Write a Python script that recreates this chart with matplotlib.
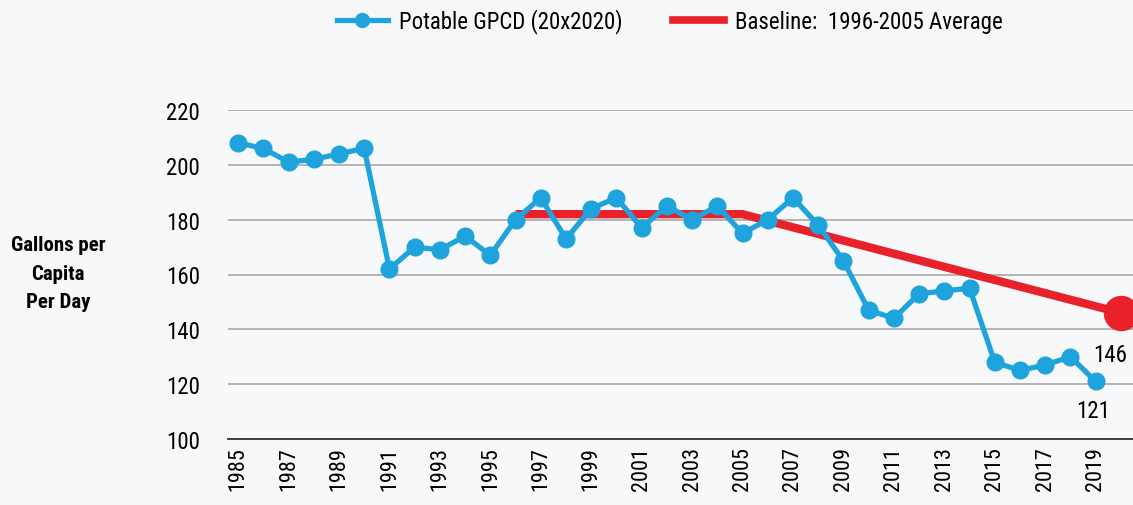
import matplotlib
matplotlib.use("Agg")
import matplotlib.pyplot as plt
from matplotlib.lines import Line2D

years = list(range(1985, 2020))
gpcd = [208, 206, 201, 202, 204, 206, 162, 170, 169, 174, 167, 180, 188, 173, 184,
        188, 177, 185, 180, 185, 175, 180, 188, 178, 165, 147, 144, 153, 154, 155,
        128, 125, 127, 130, 121]
baseline_years = [1996, 2005, 2020]
baseline_vals = [182, 182, 146]
tick_years = list(range(1985, 2020, 2))
yticks = [100, 120, 140, 160, 180, 200, 220]

BLUE = "#1fa3dc"
RED = "#e8212b"
BG = "#f7f8f9"
FONT = ["Roboto Condensed", "PT Sans Narrow", "Open Sans", "DejaVu Sans"]
plt.rcParams['font.family'] = FONT

fig = plt.figure(figsize=(11.33, 5.06), dpi=100, facecolor=BG)
ax = fig.add_axes([228/1133, 1 - 440/506, 1 - 228/1133, (440 - 111)/506])
ax.set_facecolor(BG)

ax.plot(baseline_years, baseline_vals, color=RED, lw=6, solid_capstyle='butt', zorder=2)
ax.plot([baseline_years[-1]], [baseline_vals[-1]], 'o', color=RED, ms=24.5, zorder=4, clip_on=True)
ax.plot(years, gpcd, color=BLUE, lw=3.8, marker='o', ms=12, zorder=3)

ax.set_xlim(1984.6, 2020.48)
ax.set_ylim(100, 220)
ax.set_yticks(yticks)
ax.set_xticks(tick_years)
ax.set_xticklabels([str(y) for y in tick_years], rotation=90, fontsize=16)
ax.tick_params(axis='y', labelsize=16.5, length=0, pad=20)
ax.tick_params(axis='x', length=0, pad=5)
ax.grid(axis='y', color='#a8a8a8', lw=1.2)
ax.set_axisbelow(True)
for s in ['top', 'left', 'right']:
    ax.spines[s].set_visible(False)
ax.spines['bottom'].set_color('#333333')
ax.spines['bottom'].set_linewidth(1.3)

ax.annotate(str(baseline_vals[-1]), (baseline_years[-1], baseline_vals[-1]),
            xytext=(-8, -30), textcoords='offset points', ha='center', va='center', fontsize=16.5)
ax.annotate(str(gpcd[-1]), (years[-1], gpcd[-1]),
            xytext=(-2, -21), textcoords='offset points', ha='center', va='center', fontsize=16.5)

fig.text(58/1133, 1 - 274/506, "Gallons per\nCapita\nPer Day", ha='center', va='center',
         fontsize=15, fontweight='bold', linespacing=1.6)

handles = [Line2D([], [], color=BLUE, lw=3.8, marker='o', ms=10),
           Line2D([], [], color=RED, lw=5.5)]
fig.legend(handles, ["Potable GPCD (20x2020)", "Baseline:  1996-2005 Average"],
           loc='center', bbox_to_anchor=(670/1133, 1 - 22/506), ncol=2, frameon=False,
           fontsize=16.5, handlelength=2.2, handletextpad=0.5, columnspacing=2.2)

fig.savefig("out.png", dpi=100, facecolor=BG)
